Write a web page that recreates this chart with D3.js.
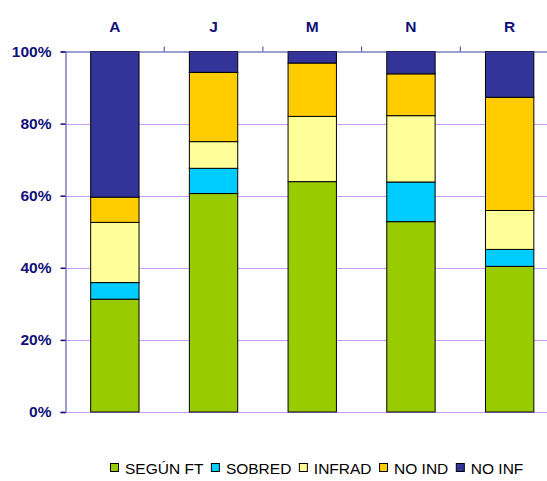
<!DOCTYPE html>
<html>
<head>
<meta charset="utf-8">
<script src="https://cdn.jsdelivr.net/npm/d3@7"></script>
<style>
  html, body { margin: 0; padding: 0; background: #fff; }
  svg { display: block; }
</style>
</head>
<body>
<svg id="chart" width="547" height="481"></svg>
<script>
// Categories along the top axis
const categories = ["A", "J", "M", "N", "R"];
// Series names (stack order, bottom to top) and their fills
const seriesNames = ["SEGÚN FT", "SOBRED", "INFRAD", "NO IND", "NO INF"];
const seriesColors = ["#99cc00", "#00ccff", "#ffff99", "#ffcc00", "#333399"];
// Percent values per series, one entry per category
const seguNFT = [31.3, 60.6, 63.9, 52.8, 40.4];
const sobred  = [4.6, 7.0, 0.0, 11.0, 4.7];
const infrad  = [16.7, 7.4, 18.1, 18.4, 10.8];
const noInd   = [7.0, 19.2, 14.8, 11.6, 31.4];
const noInf   = [40.4, 5.8, 3.2, 6.2, 12.7];
// Value axis ticks
const tickValues = [0, 20, 40, 60, 80, 100];

const seriesValues = [seguNFT, sobred, infrad, noInd, noInf];
const rows = categories.map((c, i) => {
  const r = { cat: c };
  seriesNames.forEach((s, j) => { r[s] = seriesValues[j][i]; });
  return r;
});

const svg = d3.select("#chart");
const plotLeft = 65.5, plotRight = 559, plotTop = 51.5, plotBottom = 412;
const navy = "#10107a";
const font = "Liberation Sans, Arial, sans-serif";

const x = d3.scaleBand().domain(categories).range([plotLeft, plotRight]).paddingInner(0.51).paddingOuter(0.255);
const y = d3.scaleLinear().domain([0, 100]).range([plotBottom, plotTop]);

// Gridlines
svg.append("g").selectAll("line").data(tickValues.filter(v => v > 0 && v < 100)).join("line")
  .attr("x1", plotLeft).attr("x2", 547)
  .attr("y1", d => Math.round(y(d)) + 0.5).attr("y2", d => Math.round(y(d)) + 0.5)
  .attr("stroke", "#cc99ff").attr("stroke-width", 1);
svg.append("line").attr("x1", plotLeft).attr("x2", 547)
  .attr("y1", Math.round(y(0)) + 0.5).attr("y2", Math.round(y(0)) + 0.5)
  .attr("stroke", "#cc99ff");

// Stacked bars
const stack = d3.stack().keys(seriesNames)(rows);
svg.append("g").selectAll("g").data(stack).join("g")
  .attr("fill", (d, i) => seriesColors[i])
  .selectAll("rect").data(d => d.filter(p => p[1] - p[0] > 0)).join("rect")
  .attr("x", d => x(d.data.cat))
  .attr("width", x.bandwidth())
  .attr("y", d => y(d[1]))
  .attr("height", d => y(d[0]) - y(d[1]))
  .attr("stroke", "#000").attr("stroke-width", 1);

// Left value axis
const yAxis = svg.append("g").attr("transform", `translate(${plotLeft},0)`)
  .call(d3.axisLeft(y).tickValues(tickValues).tickFormat(d => d + "%").tickSize(5).tickPadding(9));
yAxis.select(".domain").attr("stroke", "#8080c0").attr("stroke-width", 1.5);
yAxis.selectAll(".tick line").attr("stroke", navy).attr("stroke-width", 1.5);
yAxis.selectAll(".tick text")
  .attr("fill", navy).attr("font-family", font)
  .attr("font-size", 15.5).attr("font-weight", "bold");

// Top category axis
const xAxis = svg.append("g").attr("transform", `translate(0,${plotTop})`)
  .call(d3.axisTop(x).tickSize(0).tickPadding(20));
xAxis.select(".domain").attr("stroke", "#4040a0").attr("stroke-width", 1.2);
xAxis.selectAll(".tick text")
  .attr("fill", navy).attr("font-family", font)
  .attr("font-size", 15.5).attr("font-weight", "bold");
// Tick marks on the category boundaries
const step = x.step();
svg.append("g").selectAll("line").data(categories.slice(1)).join("line")
  .attr("x1", d => x(d) - x.paddingInner() * step / 2)
  .attr("x2", d => x(d) - x.paddingInner() * step / 2)
  .attr("y1", plotTop - 5).attr("y2", plotTop)
  .attr("stroke", "#4040a0").attr("stroke-width", 1);

// Legend: laid out left to right, each item sized by its text
const legend = svg.append("g").selectAll("g").data(seriesNames).join("g");
legend.append("rect").attr("x", 0.5).attr("y", -4.5).attr("width", 8).attr("height", 8)
  .attr("fill", (d, i) => seriesColors[i]).attr("stroke", "#000");
legend.append("text").attr("x", 15).attr("y", 5.5)
  .attr("font-family", font).attr("font-size", 15.5)
  .attr("fill", "#000").text(d => d);
let lx = 110;
legend.each(function () {
  const g = d3.select(this);
  g.attr("transform", `translate(${lx},468)`);
  lx += 15 + g.select("text").node().getComputedTextLength() + 7.5;
});
</script>
</body>
</html>
